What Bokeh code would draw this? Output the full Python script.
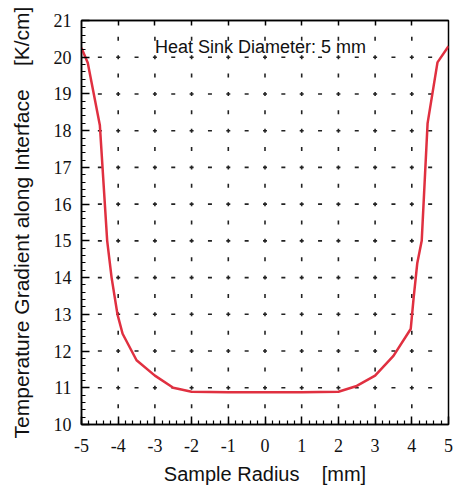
import numpy as np
from bokeh.plotting import figure
from bokeh.models import Range1d, LinearAxis, Label, FixedTicker
from bokeh.embed import file_html
from bokeh.resources import INLINE

# Data
radius_mm = [-5.0, -4.83, -4.5, -4.3, -4.18, -4.02, -3.88, -3.5, -3.0, -2.5, -2.0,
             -1.0, 0.0, 1.0, 2.0, 2.5, 3.0, 3.5, 3.97, 4.05, 4.15, 4.27, 4.43, 4.7, 5.0]
gradient_k_cm = [20.25, 19.85, 18.15, 15.0, 14.0, 13.0, 12.47, 11.75, 11.33, 11.0, 10.89,
                 10.88, 10.88, 10.88, 10.89, 11.05, 11.33, 11.87, 12.6, 13.45, 14.4, 15.0,
                 18.2, 19.86, 20.3]
x_ticks = [-5, -4, -3, -2, -1, 0, 1, 2, 3, 4, 5]
x_tick_labels = ["-5", "-4", "-3", "-2", "-1", "0", "1", "2", "3", "4", "5"]
y_ticks = [10, 11, 12, 13, 14, 15, 16, 17, 18, 19, 20, 21]
annotation = "Heat Sink Diameter: 5 mm"
x_title = "Sample Radius\u00a0\u00a0\u00a0\u00a0[mm]"
y_title = "Temperature Gradient along Interface\u00a0\u00a0\u00a0\u00a0[K/cm]"

SERIF = "Liberation Serif"

p = figure(width=459, height=487, output_backend="svg", toolbar_location=None,
           x_range=Range1d(-5, 5), y_range=Range1d(10, 21),
           min_border_left=81, min_border_right=11, min_border_top=20, min_border_bottom=63)
p.outline_line_color = "black"
p.outline_line_width = 1.5
p.background_fill_color = "white"
p.border_fill_color = "white"
p.xgrid.visible = False
p.ygrid.visible = False

# dotted grid marks
gx = np.array(x_ticks[1:-1], dtype=float)
gy_half = np.arange(10.5, 21.0, 1.0)
gy_int = np.array(y_ticks[1:-1], dtype=float)
gx_half = np.arange(-4.5, 5.0, 1.0)
mark = dict(size=4, line_color="#222222", line_width=1.6)
vx, vy = np.meshgrid(gx, gy_half)
p.scatter(vx.ravel(), vy.ravel(), marker="dash", angle=np.pi / 2, **mark)
hx, hy = np.meshgrid(gx_half, gy_int)
p.scatter(hx.ravel(), hy.ravel(), marker="dash", **mark)
cx, cy = np.meshgrid(gx, gy_int)
p.scatter(cx.ravel(), cy.ravel(), marker="dash", **mark)
p.scatter(cx.ravel(), cy.ravel(), marker="dash", angle=np.pi / 2, **mark)

p.line(radius_mm, gradient_k_cm, line_color="#e03040", line_width=2.5)

p.add_layout(Label(x=-3, y=20.27, text=annotation, text_baseline="middle",
                   text_font="Liberation Sans", text_font_size="18px", text_color="#111111"))

for ax in (p.xaxis[0], p.yaxis[0]):
    ax.axis_line_color = "black"
    ax.axis_line_width = 1.5
    ax.major_tick_in = 8
    ax.major_tick_out = 0
    ax.minor_tick_in = 4
    ax.minor_tick_out = 0
    ax.major_tick_line_width = 1.5
    ax.minor_tick_line_width = 1.2
    ax.major_label_text_font = SERIF
    ax.major_label_text_font_size = "18px"
    ax.major_label_text_color = "#111111"
    ax.axis_label_text_font = "Liberation Sans"
    ax.axis_label_text_font_style = "normal"
    ax.axis_label_text_color = "#111111"

p.xaxis[0].axis_label_text_font_size = "20px"
p.yaxis[0].axis_label_text_font_size = "21px"
p.xaxis[0].ticker = FixedTicker(ticks=x_ticks, minor_ticks=list(np.arange(-5, 5.01, 0.2)))
p.xaxis[0].major_label_overrides = {t: s for t, s in zip(x_ticks, x_tick_labels)}
p.yaxis[0].ticker = FixedTicker(ticks=y_ticks, minor_ticks=list(np.arange(10, 21.01, 0.2)))
p.xaxis[0].axis_label = x_title
p.yaxis[0].axis_label = y_title
p.xaxis[0].major_label_standoff = 14
p.yaxis[0].major_label_standoff = 10
p.xaxis[0].axis_label_standoff = 8
p.yaxis[0].axis_label_standoff = 18

top = LinearAxis(ticker=FixedTicker(ticks=x_ticks[1:-1]),
                 major_label_overrides={t: "" for t in x_ticks[1:-1]},
                 major_tick_in=5, major_tick_out=0, minor_tick_in=0, minor_tick_out=0,
                 axis_line_color="black", axis_line_width=1.5, major_tick_line_width=1.5)
p.add_layout(top, "above")

open("out.html", "w").write(file_html(p, INLINE))
